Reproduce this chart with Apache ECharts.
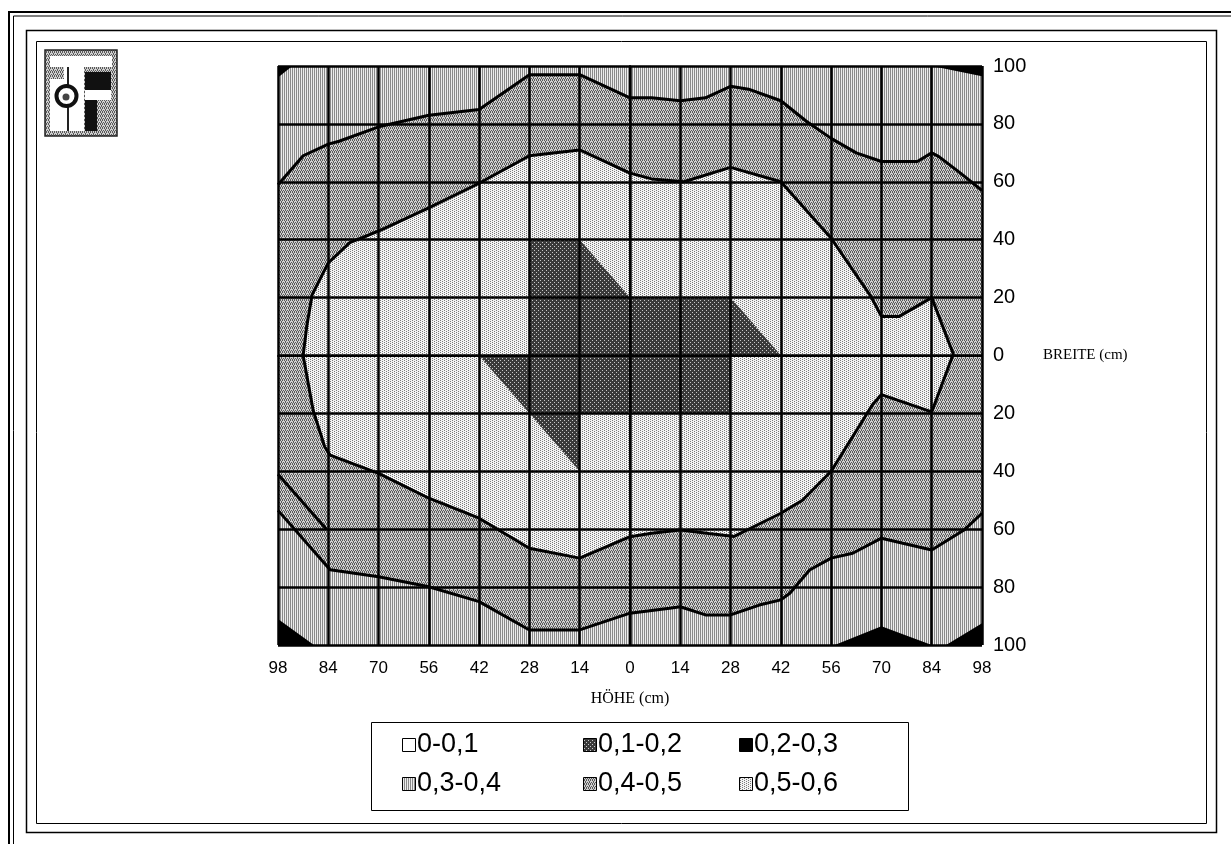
<!DOCTYPE html>
<html>
<head>
<meta charset="utf-8">
<script src="https://cdn.jsdelivr.net/npm/echarts@6/dist/echarts.min.js"></script>
<style>
html,body{margin:0;padding:0;background:#fff;}
#chart{width:1231px;height:844px;}
</style>
</head>
<body>
<div id="chart"></div>
<script>
// Tick labels: HÖHE runs out from the centre line to both sides, BREITE likewise
const hoeheTicks = [98, 84, 70, 56, 42, 28, 14, 0, 14, 28, 42, 56, 70, 84, 98];
const breiteTicks = [100, 80, 60, 40, 20, 0, 20, 40, 60, 80, 100];
const bandLabels = ['0-0,1', '0,1-0,2', '0,2-0,3', '0,3-0,4', '0,4-0,5', '0,5-0,6'];

// Contour lines as [HÖHE, BREITE] pairs; left and lower halves carry negative signs
const contourTop = [
  [-98, 59], [-91, 69], [-84, 73], [-81, 74], [-70, 79], [-56, 83], [-42, 85],
  [-28, 97], [-14, 97], [0, 89], [6, 89], [14, 88], [21, 89], [28, 93], [33, 92],
  [42, 88], [49, 81], [56, 75], [63, 70], [70, 67], [80, 67], [84, 70], [86, 68.7],
  [92, 63], [98, 57]
];
const contourInner = [
  [-91, 0], [-90, 10], [-88.5, 21], [-84, 32], [-78, 39], [-70, 43], [-56, 51],
  [-42, 59.5], [-28, 69], [-14, 71], [0, 63], [6, 61], [15, 60], [28, 65], [42, 60],
  [56, 40.5], [67, 20.5], [70, 13.5], [75, 13.5], [84, 20], [90, 0.5], [84, -19.5],
  [70, -13.5], [67.5, -17], [56, -40], [48, -50], [42, -54.5], [29, -62.5], [22, -61.5],
  [14, -60.3], [6, -61.4], [0, -62.6], [-14, -70], [-28, -66.6], [-42, -56.2],
  [-56, -49.3], [-70, -40.7], [-83.5, -34.4], [-85, -31.5], [-88.2, -19], [-91, 0]
];
const contourBottom = [
  [-98, -53.5], [-83.5, -74], [-70, -76.4], [-56, -79.9], [-42, -85], [-28, -94.8],
  [-14, -94.8], [0, -89], [11, -87.3], [14, -86.8], [21, -89.6], [28, -89.6],
  [36, -86.2], [42, -84.4], [44.5, -82.1], [50, -74.1], [56, -70], [62, -68.3],
  [70, -63.1], [84, -67.2], [93, -60.3], [98, -54.5]
];
const contourLeft = [[-98, -41], [-84.5, -60]];

// Filled regions
const coreRegion = [
  [-28, 40], [-14, 40], [0, 20], [28, 20], [42, 0], [28, 0], [28, -20],
  [-14, -20], [-14, -40], [-42, 0], [-28, 0]
];
const cornerRegions = [
  [[-98, 100], [-94, 100], [-98, 96]],
  [[84, 100], [98, 100], [98, 96.5]],
  [[-98, -91], [-98, -100], [-88, -100]],
  [[57, -100], [70, -93.5], [84, -100]],
  [[88, -100], [98, -92.5], [98, -100]]
];
const plotExtent = [[-98, 100], [98, 100], [98, -100], [-98, -100]];

// Print-style screen patterns for the bands
function screen(w, h, bg, ink, dots) {
  const c = document.createElement('canvas');
  c.width = w; c.height = h;
  const g = c.getContext('2d');
  g.fillStyle = bg; g.fillRect(0, 0, w, h);
  g.fillStyle = ink;
  dots.forEach(d => g.fillRect(d[0], d[1], 1, 1));
  return { image: c, repeat: 'repeat' };
}
const fills = [
  '#ffffff',
  screen(4, 4, '#3a3a3a', '#c8c8c8', [[0, 0], [2, 2]]),
  '#000000',
  screen(2, 2, '#ececec', '#8a8a8a', [[0, 0], [0, 1]]),
  screen(4, 4, '#cfcfcf', '#5a5a5a', [[0, 0], [2, 0], [1, 1], [3, 2], [0, 3], [2, 3], [1, 2]]),
  screen(4, 4, '#f3f3f3', '#7a7a7a', [[0, 0], [2, 1], [0, 2], [2, 3]])
];

function region(name, polys, fill, z) {
  return {
    type: 'custom', name: name, coordinateSystem: 'cartesian2d', z: z, silent: true,
    clip: true, data: [[0, 0]],
    renderItem: function (params, api) {
      return {
        type: 'group',
        children: polys.map(poly => ({
          type: 'polygon',
          shape: { points: poly.map(p => api.coord(p)) },
          style: { fill: fill, stroke: null }
        }))
      };
    }
  };
}
function contour(name, pts) {
  return {
    type: 'line', name: name, data: pts, z: 8, silent: true, symbol: 'none',
    lineStyle: { color: '#000', width: 3 }, clip: true
  };
}

const midBand = contourTop.concat(contourBottom.slice().reverse());

const chart = echarts.init(document.getElementById('chart'), null, { renderer: 'canvas' });

// Legend laid out in three columns, two rows
const legendCols = [402, 583, 739];
const legendRows = [745, 784];
const legendItems = [];
bandLabels.forEach((lab, i) => {
  const x = legendCols[i % 3], y = legendRows[Math.floor(i / 3)];
  legendItems.push({
    type: 'rect', shape: { x: x + 0.5, y: y - 6.5, width: 13, height: 13 },
    style: { fill: fills[i], stroke: '#000', lineWidth: 1 }
  });
  legendItems.push({
    type: 'text', x: x + 15, y: y,
    style: { text: lab, font: '27px "Liberation Sans", Arial, sans-serif', fill: '#000', verticalAlign: 'middle' }
  });
});

// Company mark in the upper left corner
const logo = [
  { type: 'rect', shape: { x: 45, y: 50, width: 72, height: 86 }, style: { fill: fills[4], stroke: '#222', lineWidth: 1.5 } },
  { type: 'rect', shape: { x: 50, y: 56, width: 62, height: 11 }, style: { fill: '#fff' } },
  { type: 'rect', shape: { x: 50, y: 56, width: 34, height: 75 }, style: { fill: '#fff' } },
  { type: 'rect', shape: { x: 50, y: 67, width: 14, height: 12 }, style: { fill: fills[4] } },
  { type: 'line', shape: { x1: 68, y1: 67, x2: 68, y2: 131 }, style: { stroke: '#222', lineWidth: 2 } },
  { type: 'rect', shape: { x: 85, y: 72, width: 26, height: 18 }, style: { fill: '#111' } },
  { type: 'rect', shape: { x: 85, y: 90, width: 26, height: 10 }, style: { fill: '#fff' } },
  { type: 'rect', shape: { x: 85, y: 100, width: 12, height: 31 }, style: { fill: '#111' } },
  { type: 'circle', shape: { cx: 66.5, cy: 96, r: 10 }, style: { fill: '#fff', stroke: '#111', lineWidth: 4 } },
  { type: 'circle', shape: { cx: 66, cy: 97, r: 3.5 }, style: { fill: '#444' } }
];

// Page frames
const frames = [
  { type: 'rect', shape: { x: 9, y: 12, width: 1230, height: 900 }, style: { fill: null, stroke: '#000', lineWidth: 2 } },
  { type: 'rect', shape: { x: 13.5, y: 16, width: 1230, height: 900 }, style: { fill: null, stroke: '#000', lineWidth: 1 } },
  { type: 'rect', shape: { x: 26.5, y: 30.5, width: 1190, height: 802 }, style: { fill: null, stroke: '#000', lineWidth: 1.5 } },
  { type: 'rect', shape: { x: 36.5, y: 41.5, width: 1170, height: 782 }, style: { fill: null, stroke: '#000', lineWidth: 1 } },
  { type: 'rect', shape: { x: 371.5, y: 722.5, width: 537, height: 88 }, style: { fill: '#fff', stroke: '#000', lineWidth: 1 } }
];

chart.setOption({
  animation: false,
  backgroundColor: '#fff',
  textStyle: { fontFamily: '"Liberation Sans", Arial, sans-serif' },
  grid: { left: 278, top: 66, width: 704, height: 579, show: false },
  xAxis: {
    type: 'value', min: -98, max: 98, interval: 14, z: 5,
    name: 'HÖHE (cm)', nameLocation: 'middle', nameGap: 46,
    nameTextStyle: { fontFamily: '"Liberation Serif", "Times New Roman", serif', fontSize: 16, color: '#000' },
    axisLine: { show: true, lineStyle: { color: '#000', width: 2 } },
    axisTick: { show: true, length: 3, lineStyle: { color: '#000', width: 1 } },
    axisLabel: {
      color: '#000', fontSize: 17, margin: 15,
      formatter: v => String(hoeheTicks[Math.round((v + 98) / 14)])
    },
    splitLine: { show: true, lineStyle: { color: '#000', width: 2.5 } }
  },
  yAxis: {
    type: 'value', min: -100, max: 100, interval: 20, position: 'right', z: 5,
    name: 'BREITE (cm)', nameLocation: 'middle', nameRotate: 0, nameGap: 61,
    nameTextStyle: { fontFamily: '"Liberation Serif", "Times New Roman", serif', fontSize: 15, color: '#000', align: 'left' },
    axisLine: { show: true, lineStyle: { color: '#000', width: 2 } },
    axisTick: { show: true, length: 9, lineStyle: { color: '#000', width: 1 } },
    axisLabel: {
      color: '#000', fontSize: 20, margin: 11,
      formatter: v => String(breiteTicks[Math.round((100 - v) / 20)])
    },
    splitLine: { show: true, lineStyle: { color: '#000', width: 2.5 } }
  },
  graphic: { elements: frames.concat(logo, legendItems) },
  series: [
    region(bandLabels[3], [plotExtent], fills[3], 1),
    region(bandLabels[4], [midBand], fills[4], 2),
    region(bandLabels[5], [contourInner], fills[5], 3),
    region(bandLabels[1], [coreRegion], fills[1], 4),
    region(bandLabels[2], cornerRegions, fills[2], 4),
    contour('top', contourTop),
    contour('inner', contourInner),
    contour('bottom', contourBottom),
    contour('left', contourLeft)
  ]
});
</script>
</body>
</html>
